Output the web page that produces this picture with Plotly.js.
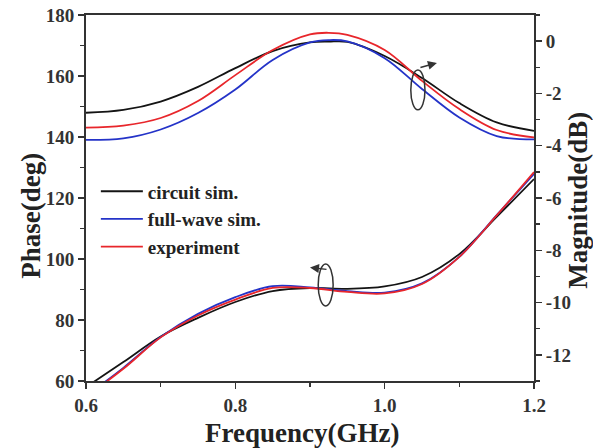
<!DOCTYPE html>
<html>
<head>
<meta charset="utf-8">
<script src="https://cdn.plot.ly/plotly-3.0.1.min.js"></script>
<style>html,body{margin:0;padding:0;background:#fff;}#chart{width:593px;height:448px;}</style>
</head>
<body>
<div id="chart"></div>
<script>
// Frequency (GHz)
const freq = [0.6, 0.65, 0.7, 0.75, 0.8, 0.85, 0.9, 0.925, 0.95, 1.0, 1.05, 1.1, 1.15, 1.2];
// Magnitude (dB), right axis
const magCircuit    = [-2.74, -2.63, -2.31, -1.75, -1.03, -0.38, -0.05, -0.02, -0.03, -0.57, -1.41, -2.37, -3.11, -3.43];
const magFullwave   = [-3.78, -3.72, -3.38, -2.75, -1.85, -0.72, -0.05, 0.04, -0.01, -0.65, -1.83, -2.92, -3.63, -3.76];
const magExperiment = [-3.31, -3.23, -2.94, -2.29, -1.30, -0.34, 0.26, 0.32, 0.24, -0.34, -1.52, -2.60, -3.40, -3.68];
// Phase (deg), left axis
const phaseFreq    = [0.6, 0.65, 0.7, 0.75, 0.8, 0.85, 0.9, 0.95, 1.0, 1.05, 1.1, 1.15, 1.2];
const phCircuit    = [58.0, 66.2, 74.6, 80.7, 85.9, 89.5, 90.5, 90.2, 91.0, 94.1, 101.6, 113.8, 126.2];
const phFullwave   = [55.1, 64.3, 74.4, 82.0, 87.5, 91.1, 90.7, 89.5, 89.0, 92.0, 100.7, 114.4, 127.9];
const phExperiment = [54.8, 64.0, 74.3, 81.5, 86.7, 90.5, 90.5, 89.2, 88.7, 91.8, 100.7, 114.3, 128.5];
const seriesNames  = ['circuit sim.', 'full-wave sim.', 'experiment'];
const seriesColors = ['#141414', '#2433c8', '#e8262b'];
// Tick labels
const xTickVals = [0.6, 0.8, 1.0, 1.2];
const xTickText = ['0.6', '0.8', '1.0', '1.2'];
const yTickVals = [60, 80, 100, 120, 140, 160, 180];
const yTickText = ['60', '80', '100', '120', '140', '160', '180'];
const y2TickVals = [0, -2, -4, -6, -8, -10, -12];
const y2TickText = ['0', '-2', '-4', '-6', '-8', '-10', '-12'];

const FONT = 'Liberation Serif, Times New Roman, serif';
const bold = s => '<b>' + s + '</b>';
const mags = [magCircuit, magFullwave, magExperiment];
const phs = [phCircuit, phFullwave, phExperiment];
const traces = [];
for (let i = 0; i < 3; i++) {
  traces.push({x: phaseFreq, y: phs[i], type: 'scatter', mode: 'lines', name: bold(seriesNames[i]),
    legendgroup: 'g' + i, showlegend: false, yaxis: 'y',
    line: {color: seriesColors[i], width: 1.8, shape: 'spline', smoothing: 1}});
}
for (let i = 0; i < 3; i++) {
  traces.push({x: freq, y: mags[i], type: 'scatter', mode: 'lines', name: bold(seriesNames[i]),
    legendgroup: 'g' + i, showlegend: true, yaxis: 'y2',
    line: {color: seriesColors[i], width: 1.8, shape: 'spline', smoothing: 1}});
}

const tickFont = {family: FONT, size: 19, color: '#333', weight: 'bold'};
const minorCfg = {ticklen: 4, tickwidth: 1.5, tickcolor: '#333', ticks: 'outside'};
const axisCommon = {showgrid: false, zeroline: false, showline: true, linecolor: '#333', linewidth: 2,
  ticks: 'outside', ticklen: 6, tickwidth: 1.5, tickcolor: '#333', tickfont: tickFont, tickmode: 'array'};

const titleFont = {family: FONT, size: 27, color: '#222'};

const layout = {
  width: 593, height: 448,
  margin: {l: 86, r: 59, t: 15, b: 67},
  paper_bgcolor: '#fff', plot_bgcolor: '#fff',
  font: {family: FONT, color: '#222'},
  showlegend: true,
  legend: {x: 0.022, y: 0.57, xanchor: 'left', yanchor: 'top', bgcolor: 'rgba(0,0,0,0)',
    font: {family: FONT, size: 19, color: '#222'}, tracegroupgap: 0, itemwidth: 42},
  xaxis: Object.assign({}, axisCommon, {range: [0.6, 1.2], tickvals: xTickVals, ticktext: xTickText.map(bold), mirror: true,
    minor: Object.assign({dtick: 0.1, tick0: 0.6}, minorCfg)}),
  yaxis: Object.assign({}, axisCommon, {range: [60, 180], tickvals: yTickVals, ticktext: yTickText.map(bold),
    minor: Object.assign({dtick: 10, tick0: 60}, minorCfg)}),
  yaxis2: Object.assign({}, axisCommon, {range: [-13, 1], tickvals: y2TickVals, ticktext: y2TickText.map(bold),
    overlaying: 'y', side: 'right', minor: Object.assign({dtick: 1, tick0: 0}, minorCfg)}),
  shapes: [
    {type: 'circle', xref: 'x', yref: 'y', x0: 1.035, x1: 1.054, y0: 148.9, y1: 162, line: {color: '#333', width: 1.5}},
    {type: 'circle', xref: 'x', yref: 'y', x0: 0.911, x1: 0.931, y0: 84.6, y1: 98.4, line: {color: '#333', width: 1.5}}
  ],
  annotations: [
    {x: 1.07, y: 164.3, xref: 'x', yref: 'y', ax: -18, ay: 5, text: '', showarrow: true, arrowhead: 2, arrowsize: 1.2, arrowwidth: 1.5, arrowcolor: '#333'},
    {x: 0.9, y: 97.2, xref: 'x', yref: 'y', ax: 18, ay: 2, text: '', showarrow: true, arrowhead: 2, arrowsize: 1.2, arrowwidth: 1.5, arrowcolor: '#333'},
    {text: bold('Frequency(GHz)'), xref: 'paper', yref: 'paper', x: 0.482, y: -0.142, xanchor: 'center', yanchor: 'middle', showarrow: false, font: titleFont},
    {text: bold('Phase(deg)'), xref: 'paper', yref: 'paper', x: -0.123, y: 0.451, xanchor: 'center', yanchor: 'middle', textangle: -90, showarrow: false, font: titleFont},
    {text: bold('Magnitude(dB)'), xref: 'paper', yref: 'paper', x: 1.098, y: 0.495, xanchor: 'center', yanchor: 'middle', textangle: -90, showarrow: false, font: titleFont}
  ]
};

Plotly.newPlot('chart', traces, layout, {displayModeBar: false, staticPlot: true});
</script>
</body>
</html>
